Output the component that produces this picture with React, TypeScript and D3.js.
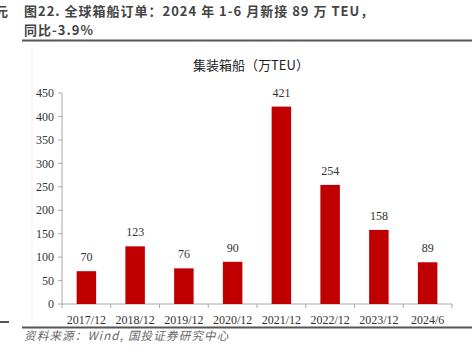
import * as d3 from "d3";

const categories = ["2017/12", "2018/12", "2019/12", "2020/12", "2021/12", "2022/12", "2023/12", "2024/6"];
const orders = [70, 123, 76, 90, 421, 254, 158, 89];
const yTicks = [0, 50, 100, 150, 200, 250, 300, 350, 400, 450];

const width = 472;
const height = 354;

export default function App() {
  const marginLeft = 62;
  const marginRight = 20;
  const yTop = 93;
  const yBottom = 304;

  const x = d3.scaleBand<string>()
    .domain(categories)
    .range([marginLeft, width - marginRight])
    .paddingInner(0.6)
    .paddingOuter(0.3);

  // band step for tick marks between categories
  const step = x.step();
  const x0 = marginLeft;

  const y = d3.scaleLinear().domain([0, 450]).range([yBottom, yTop]);

  const serif = "'Liberation Serif', 'Times New Roman', serif";
  const cjk = "'Noto Sans CJK SC', sans-serif";

  return (
    <svg
      width={width}
      height={height}
      viewBox={`0 0 ${width} ${height}`}
      style={{ position: "absolute", left: 0, top: 0, background: "#fff" }}
    >
      {/* page fragments on the left */}
      <text x={-5} y={16} fontFamily={cjk} fontWeight="bold" fontSize={13} fill="#444">元</text>
      <line x1={0} x2={9} y1={322} y2={322} stroke="#555" strokeWidth={2} />
      <line x1={32} x2={32} y1={46} y2={326} stroke="#f2f2f2" strokeWidth={1} />

      {/* report title */}
      <text x={24} y={16} fontFamily={cjk} fontWeight="bold" fontSize={13} letterSpacing={1} fill="#444">
        图22. 全球箱船订单：2024 年 1-6 月新接 89 万 TEU，
      </text>
      <text x={24} y={35} fontFamily={cjk} fontWeight="bold" fontSize={13} letterSpacing={1} fill="#444">
        同比-3.9%
      </text>
      <line x1={22} x2={width} y1={40.5} y2={40.5} stroke="#555" strokeWidth={2} />

      {/* chart title */}
      <text x={251} y={70} textAnchor="middle" fontFamily={cjk} fontSize={13} fill="#222">
        集装箱船（万TEU）
      </text>

      {/* y axis */}
      <line x1={x0} x2={x0} y1={yTop} y2={yBottom} stroke="#aaa" />
      {yTicks.map(t => (
        <g key={t}>
          <line x1={x0 - 4} x2={x0} y1={y(t)} y2={y(t)} stroke="#aaa" />
          <text x={54} y={y(t)} dy="0.35em" textAnchor="end" fontFamily={serif} fontSize={12} fill="#333">
            {t}
          </text>
        </g>
      ))}

      {/* x axis */}
      <line x1={x0} x2={x0 + step * categories.length} y1={yBottom} y2={yBottom} stroke="#aaa" />
      {d3.range(categories.length + 1).map(i => (
        <line key={i} x1={x0 + step * i} x2={x0 + step * i} y1={yBottom} y2={yBottom + 4} stroke="#aaa" />
      ))}
      {categories.map(c => (
        <text key={c} x={(x(c) ?? 0) + x.bandwidth() / 2} y={324} textAnchor="middle" fontFamily={serif} fontSize={12} fill="#333">
          {c}
        </text>
      ))}

      {/* bars */}
      {categories.map((c, i) => (
        <g key={c}>
          <rect
            x={x(c)}
            y={y(orders[i])}
            width={x.bandwidth()}
            height={yBottom - y(orders[i])}
            fill="#c00000"
          />
          <text
            x={(x(c) ?? 0) + x.bandwidth() / 2}
            y={y(orders[i]) - 10}
            textAnchor="middle"
            fontFamily={serif}
            fontSize={12}
            fill="#333"
          >
            {orders[i]}
          </text>
        </g>
      ))}

      {/* footer */}
      <line x1={22} x2={width} y1={327.5} y2={327.5} stroke="#555" strokeWidth={2} />
      <text x={24} y={340} fontFamily={cjk} fontStyle="italic" fontSize={11.5} letterSpacing={1.2} fill="#666">
        资料来源：Wind, 国投证券研究中心
      </text>
    </svg>
  );
}
